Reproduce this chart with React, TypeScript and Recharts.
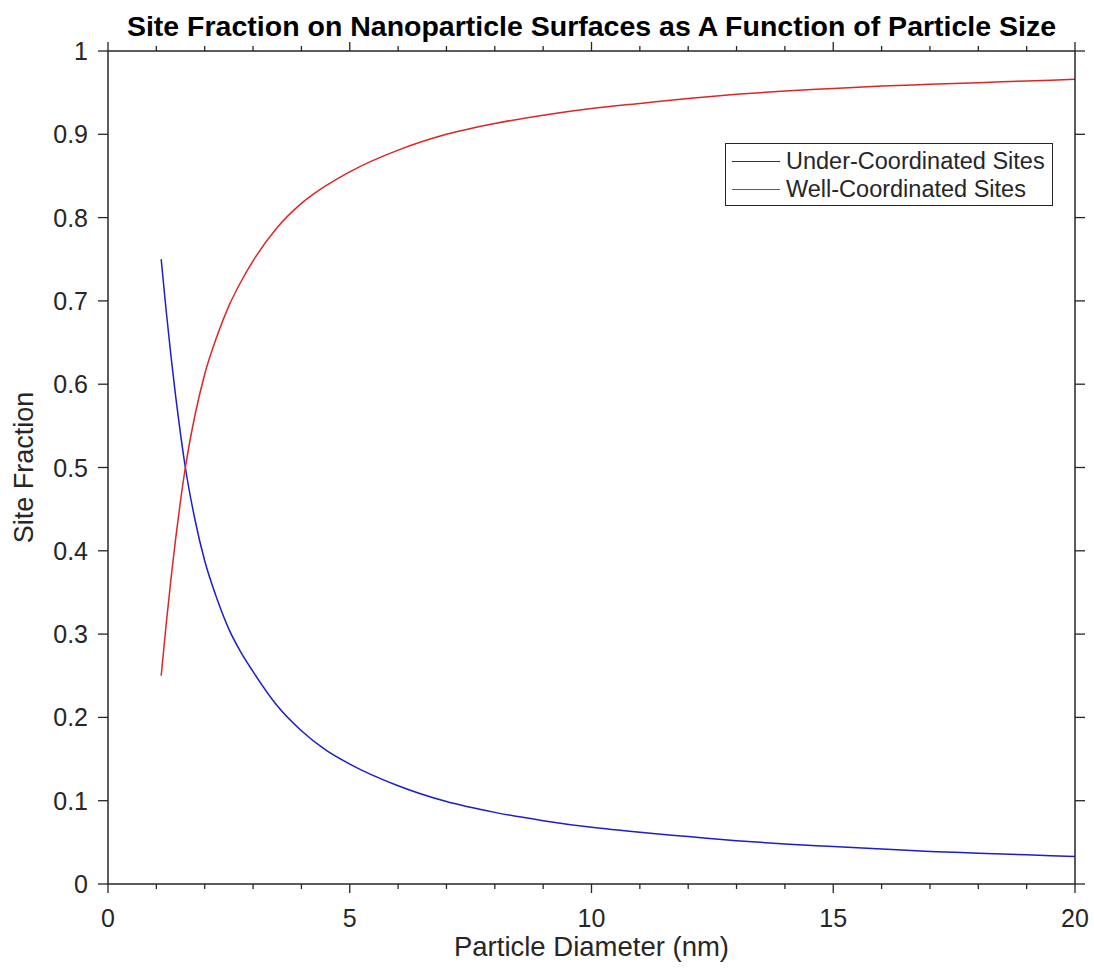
import React from 'react';
import { LineChart, Line, XAxis, YAxis, Legend, Label } from 'recharts';

const diameters = [1.1, 1.2, 1.3, 1.4, 1.5, 1.6, 1.8, 2, 2.25, 2.5, 2.75, 3, 3.5, 4, 4.5, 5, 6, 7, 8, 9, 10, 11, 12, 13, 14, 15, 16, 17, 18, 19, 20];
const underCoordinated = [0.75, 0.69, 0.635, 0.585, 0.54, 0.50, 0.437, 0.388, 0.343, 0.306, 0.278, 0.255, 0.214, 0.184, 0.161, 0.144, 0.118, 0.099, 0.086, 0.076, 0.068, 0.062, 0.057, 0.052, 0.048, 0.045, 0.042, 0.039, 0.037, 0.035, 0.033];
const wellCoordinated = [0.25, 0.31, 0.365, 0.415, 0.46, 0.50, 0.563, 0.612, 0.657, 0.694, 0.723, 0.748, 0.788, 0.817, 0.838, 0.855, 0.881, 0.90, 0.913, 0.923, 0.931, 0.937, 0.943, 0.948, 0.952, 0.955, 0.958, 0.960, 0.962, 0.964, 0.966];

const xTicks = [0, 1, 2, 3, 4, 5, 6, 7, 8, 9, 10, 11, 12, 13, 14, 15, 16, 17, 18, 19, 20];
const xLabeledTicks = [0, 5, 10, 15, 20];
const yTicks = [0, 0.1, 0.2, 0.3, 0.4, 0.5, 0.6, 0.7, 0.8, 0.9, 1];
const yTickLabels = ['0', '0.1', '0.2', '0.3', '0.4', '0.5', '0.6', '0.7', '0.8', '0.9', '1'];

const titleText = 'Site Fraction on Nanoparticle Surfaces as A Function of Particle Size';
const xLabelText = 'Particle Diameter (nm)';
const yLabelText = 'Site Fraction';
const underName = 'Under-Coordinated Sites';
const wellName = 'Well-Coordinated Sites';

const data = diameters.map((d, i) => ({ d, under: underCoordinated[i], well: wellCoordinated[i] }));

const AX = '#262626';
const FONT = '"Liberation Sans", Arial, Helvetica, sans-serif';
const BLUE = '#1c1cd0';
const RED = '#e02424';

const BottomTick = (props: any) => {
  const { x, y, payload } = props;
  const v = payload.value;
  const major = xLabeledTicks.includes(v);
  return (
    <g>
      <line x1={x} x2={x} y1={y} y2={y + (major ? 9 : 5)} stroke={AX} strokeWidth={1.3} />
      {major && (
        <text x={x} y={y + 43} textAnchor="middle" fontSize={25} fill={AX} fontFamily={FONT}>
          {String(v)}
        </text>
      )}
    </g>
  );
};

const TopTick = (props: any) => {
  const { x, y, payload } = props;
  const major = xLabeledTicks.includes(payload.value);
  return <line x1={x} x2={x} y1={y} y2={y - (major ? 9 : 5)} stroke={AX} strokeWidth={1.3} />;
};

const LeftTick = (props: any) => {
  const { x, y, payload, index } = props;
  const idx = yTicks.indexOf(payload.value);
  const label = idx >= 0 ? yTickLabels[idx] : yTickLabels[index];
  return (
    <g>
      <line x1={x - 10} x2={x} y1={y} y2={y} stroke={AX} strokeWidth={1.3} />
      <text x={x - 20} y={y + 9} textAnchor="end" fontSize={25} fill={AX} fontFamily={FONT}>
        {label}
      </text>
    </g>
  );
};

const RightTick = (props: any) => {
  const { x, y } = props;
  return <line x1={x} x2={x + 10} y1={y} y2={y} stroke={AX} strokeWidth={1.3} />;
};

const renderLegend = (props: any) => {
  const payload = props.payload || [];
  return (
    <div
      style={{
        boxSizing: 'border-box',
        width: 328,
        height: 63,
        border: `1.3px solid ${AX}`,
        background: '#fff',
        padding: '3px 0',
        fontFamily: FONT,
        fontSize: 23.5,
        color: AX,
      }}
    >
      {payload.map((p: any) => (
        <div key={p.value} style={{ display: 'flex', alignItems: 'center', height: 28 }}>
          <span style={{ display: 'inline-block', width: 48, marginLeft: 6, borderTop: `1.5px solid ${p.color}` }} />
          <span style={{ marginLeft: 6, whiteSpace: 'nowrap', lineHeight: '28px' }}>{p.value}</span>
        </div>
      ))}
    </div>
  );
};

export default function App() {
  return (
    <div style={{ position: 'absolute', left: 0, top: 0, width: 1094, height: 972, background: '#fff' }}>
      <svg width={1094} height={50} style={{ position: 'absolute', left: 0, top: 0 }}>
        <text x={591.5} y={36} textAnchor="middle" fontSize={28.5} fontWeight="bold" fill="#000" fontFamily={FONT}>
          {titleText}
        </text>
      </svg>
      <div style={{ position: 'absolute', left: 0, top: 0 }}>
        <LineChart width={1094} height={972} data={data} margin={{ top: 50, right: 18, bottom: 0, left: 48 }}>
          <XAxis
            xAxisId="bottom"
            dataKey="d"
            type="number"
            domain={[0, 20]}
            ticks={xTicks}
            interval={0}
            orientation="bottom"
            height={88}
            tickSize={0}
            tickMargin={0}
            tickLine={false}
            axisLine={{ stroke: AX, strokeWidth: 1.5 }}
            tick={BottomTick}
          >
            <Label
              content={(p: any) => {
                const vb = p.viewBox;
                return (
                  <text x={vb.x + vb.width / 2} y={vb.y + 72} textAnchor="middle" fontSize={27.5} fill={AX} fontFamily={FONT}>
                    {xLabelText}
                  </text>
                );
              }}
            />
          </XAxis>
          <XAxis
            xAxisId="top"
            dataKey="d"
            type="number"
            domain={[0, 20]}
            ticks={xTicks}
            interval={0}
            orientation="top"
            height={1}
            tickSize={0}
            tickMargin={0}
            tickLine={false}
            axisLine={{ stroke: AX, strokeWidth: 1.5 }}
            tick={TopTick}
          />
          <YAxis
            yAxisId="left"
            type="number"
            domain={[0, 1]}
            ticks={yTicks}
            interval={0}
            orientation="left"
            width={60}
            tickSize={0}
            tickMargin={0}
            tickLine={false}
            axisLine={{ stroke: AX, strokeWidth: 1.5 }}
            tick={LeftTick}
          >
            <Label
              content={(p: any) => {
                const vb = p.viewBox;
                const cx = vb.x - 15;
                const cy = vb.y + vb.height / 2;
                return (
                  <text x={cx} y={cy} transform={`rotate(-90 ${cx} ${cy})`} textAnchor="middle" fontSize={27} fill={AX} fontFamily={FONT}>
                    {yLabelText}
                  </text>
                );
              }}
            />
          </YAxis>
          <YAxis
            yAxisId="right"
            type="number"
            domain={[0, 1]}
            ticks={yTicks}
            interval={0}
            orientation="right"
            width={1}
            tickSize={0}
            tickMargin={0}
            tickLine={false}
            axisLine={{ stroke: AX, strokeWidth: 1.5 }}
            tick={RightTick}
          />
          <Legend
            layout="vertical"
            align="center"
            verticalAlign="middle"
            content={renderLegend}
            wrapperStyle={{ position: 'absolute', top: 143, left: 725, width: 328, height: 63 }}
          />
          <Line
            xAxisId="bottom"
            yAxisId="left"
            type="monotone"
            dataKey="under"
            name={underName}
            stroke={BLUE}
            strokeWidth={1.5}
            dot={false}
            isAnimationActive={false}
          />
          <Line
            xAxisId="top"
            yAxisId="right"
            type="monotone"
            dataKey="well"
            name={wellName}
            stroke={RED}
            strokeWidth={1.5}
            dot={false}
            isAnimationActive={false}
          />
        </LineChart>
      </div>
    </div>
  );
}
